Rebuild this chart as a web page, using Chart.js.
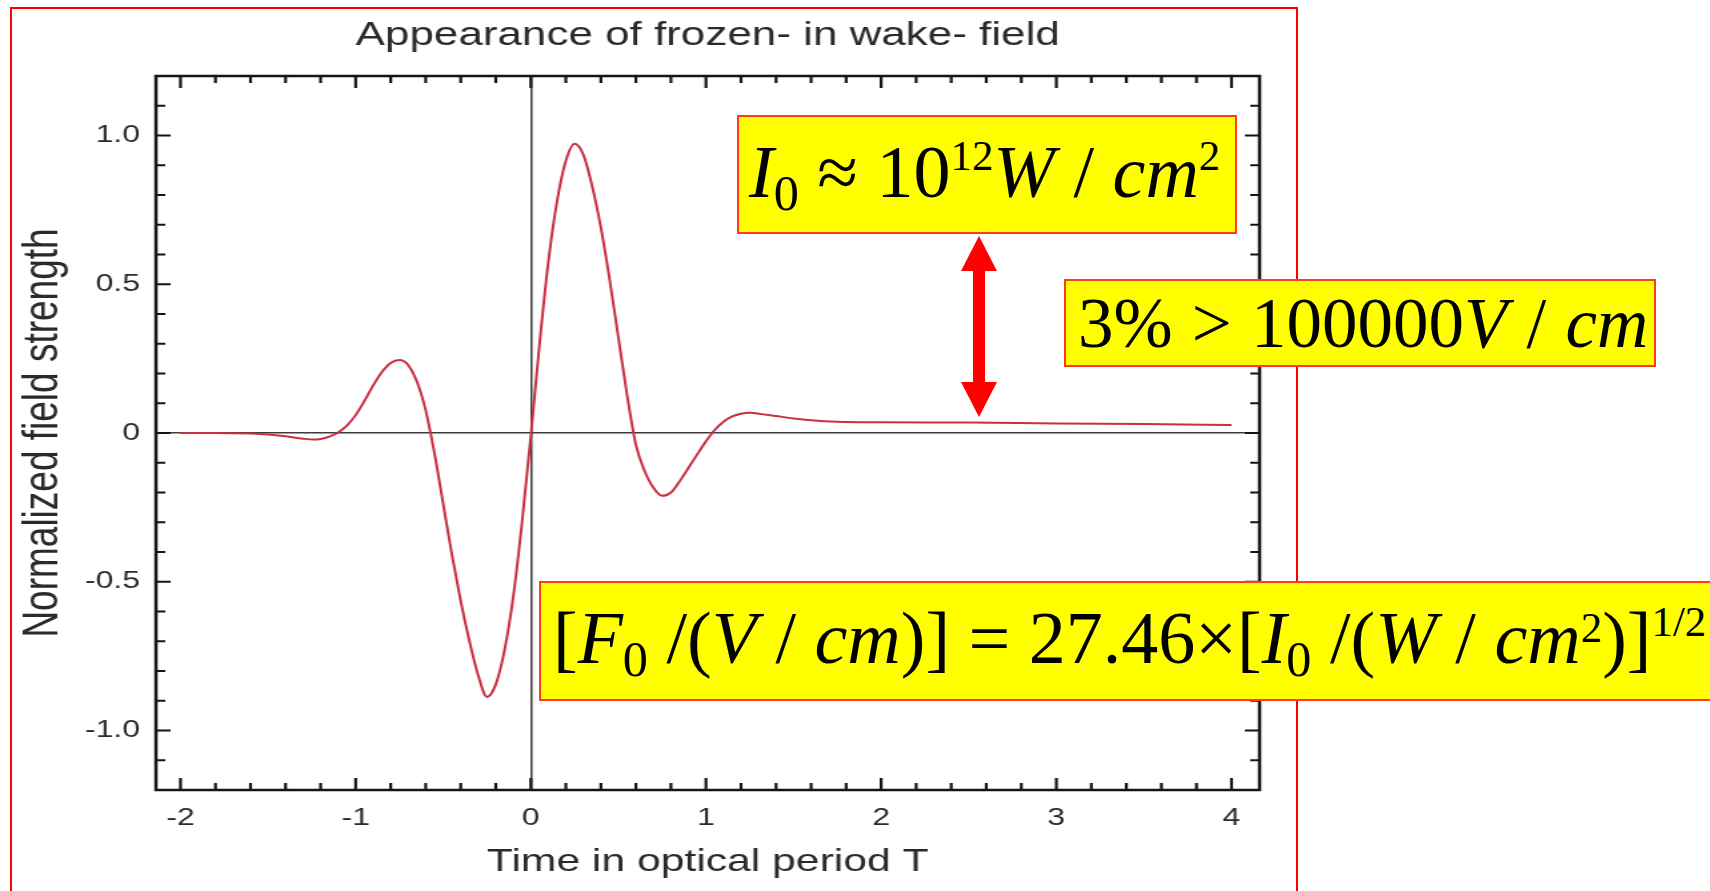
<!DOCTYPE html>
<html>
<head>
<meta charset="utf-8">
<title>Appearance of frozen- in wake- field</title>
<script src="https://cdn.jsdelivr.net/npm/chart.js@4/dist/chart.umd.min.js"></script>
<style>
  html, body { margin: 0; padding: 0; background: #fff; }
  body { width: 1710px; height: 891px; overflow: hidden; position: relative; }
  /* the plot is laid out narrow and widened, like the slide it comes from */
  #wykres { position: absolute; left: 0; top: 0; transform-origin: 0 0; transform: scaleX(1.33281); }
  #ramka { position: absolute; left: 10px; top: 7px; width: 1288px; height: 1000px;
           box-sizing: border-box; border: 2px solid #ff0000; }
  #strzalka { position: absolute; left: 0; top: 0; }
  .box { position: absolute; box-sizing: border-box; border: 2px solid #ff3b1f; background: #ffff00; overflow: hidden; }
  .box .t { position: absolute; white-space: nowrap; font-family: "Liberation Serif", "Times New Roman", serif;
            font-size: 74px; line-height: 1; color: #000; }
  .box i { font-style: italic; }
  .box .dol { font-size: 0.68em; position: relative; top: 0.25em; }
  .box .gora { font-size: 0.58em; position: relative; top: -0.62em; }
  .box .gora2 { font-size: 0.58em; position: relative; top: -0.5em; }
  .box .odst { margin: 0 0.27em; }
</style>
</head>
<body>
<canvas id="wykres" width="1283" height="891"></canvas>
<div id="ramka"></div>
<svg id="strzalka" width="1710" height="891">
  <polygon fill="#ff0000" points="979,236 997,271 985,271 985,382 997,382 979,417 961,382 973,382 973,271 961,271"/>
</svg>
<div class="box" style="left:737px; top:115px; width:500px; height:119px;">
  <div class="t" style="left:10px; top:18px;"><i>I</i><span class="dol">0</span> ≈ 10<span class="gora">12</span><i>W</i> / <i>cm</i><span class="gora">2</span></div>
</div>
<div class="box" style="left:1064px; top:279px; width:592px; height:88px;">
  <div class="t" style="left:12px; top:7px; font-size:71px;">3%<span class="odst">&gt;</span>100000<i>V</i><span class="odst">/</span><i>cm</i></div>
</div>
<div class="box" style="left:539px; top:581px; width:1250px; height:120px;">
  <div class="t" style="left:12px; top:18px;">[<i>F</i><span class="dol">0</span> /(<i>V</i> / <i>cm</i>)] = 27.46×[<i>I</i><span class="dol">0</span> /(<i>W</i> / <i>cm</i><span class="gora2">2</span>)]<span class="gora">1/2</span></div>
</div>

<script>
// czas w okresach optycznych T i znormalizowane natezenie pola
var czasT = [-2.0, -1.8, -1.6, -1.5, -1.4, -1.3, -1.24, -1.2, -1.15, -1.1, -1.05, -1.0,
  -0.95, -0.9, -0.85, -0.8, -0.75, -0.7, -0.65, -0.6, -0.55, -0.5, -0.45, -0.4, -0.35,
  -0.3, -0.25, -0.2, -0.15, -0.1, -0.05, 0.0, 0.05, 0.1, 0.15, 0.2, 0.25, 0.3, 0.35,
  0.4, 0.45, 0.5, 0.55, 0.6, 0.65, 0.7, 0.75, 0.8, 0.85, 0.9, 0.95, 1.0, 1.05, 1.1,
  1.15, 1.2, 1.25, 1.3, 1.4, 1.5, 1.6, 1.75, 2.0, 2.5, 3.0, 3.5, 4.0];
var natezenie = [0.000, 0.000, -0.002, -0.005, -0.011, -0.019, -0.022, -0.020, -0.012, 0.002, 0.025, 0.060,
  0.108, 0.160, 0.205, 0.235, 0.245, 0.228, 0.172, 0.076, -0.068, -0.238, -0.410, -0.565, -0.700,
  -0.815, -0.887, -0.845, -0.730, -0.550, -0.300, -0.010, 0.300, 0.575, 0.780, 0.915, 0.972, 0.935, 0.830,
  0.690, 0.515, 0.320, 0.125, -0.040, -0.128, -0.184, -0.211, -0.200, -0.162, -0.117, -0.072, -0.028, 0.010, 0.038,
  0.056, 0.065, 0.068, 0.065, 0.057, 0.049, 0.043, 0.038, 0.036, 0.035, 0.032, 0.030, 0.027];

var xTicki = [-2, -1, 0, 1, 2, 3, 4];
var xOpisy = ['-2', '-1', '0', '1', '2', '3', '4'];
var yTicki = [-1.0, -0.5, 0, 0.5, 1.0];
var yOpisy = ['-1.0', '-0.5', '0', '0.5', '1.0'];

var punkty = [];
for (var i in czasT) {
  punkty.push({ x: czasT[i], y: natezenie[i] });
}

var tekst = '#2a2a2a';
var czcionka = 'Liberation Sans, Arial, Helvetica, sans-serif';

function liniaZera(ctx) {
  return ctx.tick && ctx.tick.value === 0 ? '#3c3c3c' : 'rgba(0,0,0,0)';
}

// ramka wykresu i kreski podzialki skierowane do srodka
var ramkaPlugin = {
  id: 'ramka',
  afterDraw: function (chart) {
    var ctx = chart.ctx, a = chart.chartArea;
    var sx = chart.scales.x, sy = chart.scales.y;
    ctx.save();
    ctx.strokeStyle = '#151515';
    ctx.lineWidth = 2.2;
    ctx.beginPath();
    for (var k = -10; k <= 20; k++) {
      var v = k / 5;
      if (v < sx.min || v > sx.max) continue;
      var px = sx.getPixelForValue(v);
      var dl = k % 5 === 0 ? 12 : 7;
      ctx.moveTo(px, a.bottom); ctx.lineTo(px, a.bottom - dl);
      ctx.moveTo(px, a.top); ctx.lineTo(px, a.top + dl);
    }
    for (var m = -12; m <= 12; m++) {
      var py = sy.getPixelForValue(m / 10);
      var dl2 = m % 5 === 0 ? 11 : 7;
      ctx.moveTo(a.left, py); ctx.lineTo(a.left + dl2, py);
      ctx.moveTo(a.right, py); ctx.lineTo(a.right - dl2, py);
    }
    ctx.stroke();
    ctx.lineWidth = 2.5;
    ctx.strokeRect(a.left, a.top, a.right - a.left, a.bottom - a.top);
    ctx.restore();
  }
};

var wykres = new Chart(document.getElementById('wykres'), {
  type: 'line',
  data: {
    datasets: [{
      data: punkty,
      borderColor: '#c92f42',
      borderWidth: 2,
      pointRadius: 0,
      fill: false,
      cubicInterpolationMode: 'monotone'
    }]
  },
  options: {
    responsive: false,
    animation: false,
    layout: { padding: { left: 0, top: 0, right: 338, bottom: 0 } },
    plugins: { legend: { display: false }, tooltip: { enabled: false } },
    scales: {
      x: {
        type: 'linear', position: 'bottom', min: -2.14, max: 4.16,
        afterFit: function (s) { s.height = 101; },
        afterBuildTicks: function (s) { s.ticks = xTicki.map(function (v) { return { value: v }; }); },
        grid: { drawTicks: false, color: liniaZera, lineWidth: 1.5 },
        border: { display: false },
        ticks: {
          autoSkip: false, maxRotation: 0, padding: 14, color: tekst,
          font: { family: czcionka, size: 24 },
          callback: function (v, i) { return xOpisy[i]; }
        },
        title: {
          display: true, text: 'Time in optical period T', color: tekst,
          font: { family: czcionka, size: 32 }, padding: { top: 0, bottom: 10 }
        }
      },
      gora: {
        type: 'linear', position: 'top', min: -2.14, max: 4.16,
        afterFit: function (s) { s.height = 76; },
        grid: { display: false },
        border: { display: false },
        ticks: { display: false },
        title: {
          display: true, text: 'Appearance of frozen- in wake- field', color: tekst,
          font: { family: czcionka, size: 33 }, padding: { top: 16, bottom: 0 }
        }
      },
      y: {
        type: 'linear', position: 'left', min: -1.2, max: 1.2,
        afterFit: function (s) { s.width = 117; },
        afterBuildTicks: function (s) { s.ticks = yTicki.map(function (v) { return { value: v }; }); },
        grid: { drawTicks: false, color: liniaZera, lineWidth: 1.5 },
        border: { display: false },
        ticks: {
          autoSkip: false, padding: 12, color: tekst,
          font: { family: czcionka, size: 24 },
          callback: function (v, i) { return yOpisy[i]; }
        },
        title: {
          display: true, text: 'Normalized field strength', color: tekst,
          font: { family: czcionka, size: 37 }, padding: { top: 11, bottom: 0 }
        }
      }
    }
  },
  plugins: [ramkaPlugin]
});
</script>
</body>
</html>
